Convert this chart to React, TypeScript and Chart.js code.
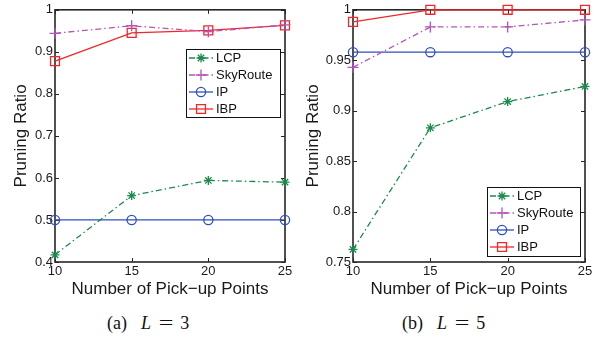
import React, { useEffect, useRef } from "react";
import { Chart, registerables } from "chart.js";
import { drawPoint } from "chart.js/helpers";

Chart.register(...registerables);

// ---------- data ----------
const pickupPoints = [10, 15, 20, 25];
const seriesNames = ["LCP", "SkyRoute", "IP", "IBP"];

// (a) L = 3
const lcpL3 = [0.417, 0.558, 0.594, 0.59];
const skyRouteL3 = [0.944, 0.962, 0.948, 0.964];
const ipL3 = [0.5, 0.5, 0.5, 0.5];
const ibpL3 = [0.878, 0.945, 0.951, 0.963];

// (b) L = 5
const lcpL5 = [0.7625, 0.883, 0.909, 0.924];
const skyRouteL5 = [0.943, 0.983, 0.983, 0.99];
const ipL5 = [0.958, 0.958, 0.958, 0.958];
const ibpL5 = [0.988, 1.0, 1.0, 1.0];

const xTicks = [10, 15, 20, 25];
const yTicksL3 = [0.4, 0.5, 0.6, 0.7, 0.8, 0.9, 1];
const yTicksL5 = [0.75, 0.8, 0.85, 0.9, 0.95, 1];

const xTitle = "Number of Pick\u2212up Points";
const yTitle = "Pruning Ratio";

// ---------- styles ----------
const FONT = "'Liberation Sans', Arial, Helvetica, sans-serif";
const seriesStyles = [
  { color: "#1b8a4c", dash: [6, 3, 1.5, 3], pointStyle: "star", radius: 4.5 },
  { color: "#b455b8", dash: [6, 3, 1.5, 3], pointStyle: "cross", radius: 5.5 },
  { color: "#2f4fbf", dash: [], pointStyle: "circle", radius: 4.6 },
  { color: "#f2262a", dash: [], pointStyle: "rect", radius: 6.3 },
];

const frameWithTicks = {
  id: "frameWithTicks",
  beforeDatasetsDraw(chart: any) {
    const { ctx, chartArea: a, scales } = chart;
    ctx.save();
    ctx.strokeStyle = "#262626";
    ctx.lineWidth = 1.6;
    ctx.strokeRect(a.left, a.top, a.right - a.left, a.bottom - a.top);
    ctx.lineWidth = 1;
    const len = 4;
    ctx.beginPath();
    scales.x.ticks.forEach((t: any) => {
      const px = Math.round(scales.x.getPixelForValue(t.value)) + 0.5;
      ctx.moveTo(px, a.bottom);
      ctx.lineTo(px, a.bottom - len);
      ctx.moveTo(px, a.top);
      ctx.lineTo(px, a.top + len);
    });
    scales.y.ticks.forEach((t: any) => {
      const py = Math.round(scales.y.getPixelForValue(t.value)) + 0.5;
      ctx.moveTo(a.left, py);
      ctx.lineTo(a.left + len, py);
      ctx.moveTo(a.right, py);
      ctx.lineTo(a.right - len, py);
    });
    ctx.stroke();
    ctx.restore();
  },
};

const boxLegend = {
  id: "boxLegend",
  afterDatasetsDraw(chart: any, _args: any, opts: any) {
    const { ctx, chartArea: a } = chart;
    const w = opts.width;
    const h = opts.height;
    const x0 = Math.round(a.right - opts.gapRight - w);
    const y0 = Math.round(
      opts.anchor === "top" ? a.top + opts.offset : a.bottom - opts.offset - h
    );
    ctx.save();
    ctx.fillStyle = "#ffffff";
    ctx.fillRect(x0, y0, w, h);
    ctx.strokeStyle = "#111111";
    ctx.lineWidth = 1;
    ctx.strokeRect(x0 + 0.5, y0 + 0.5, w, h);
    chart.data.datasets.forEach((ds: any, i: number) => {
      const cy = y0 + 9 + i * 17;
      ctx.save();
      ctx.strokeStyle = ds.borderColor;
      ctx.lineWidth = 1.3;
      ctx.setLineDash(ds.borderDash || []);
      ctx.beginPath();
      ctx.moveTo(x0 + 3, cy);
      ctx.lineTo(x0 + 27, cy);
      ctx.stroke();
      ctx.restore();
      ctx.save();
      ctx.strokeStyle = ds.borderColor;
      ctx.fillStyle = "rgba(0,0,0,0)";
      ctx.lineWidth = 1.3;
      drawPoint(
        ctx,
        { pointStyle: ds.pointStyle, radius: ds.pointRadius, rotation: 0, borderWidth: 1.3 },
        x0 + 15,
        cy
      );
      ctx.restore();
      ctx.fillStyle = "#111111";
      ctx.font = `13px ${FONT}`;
      ctx.textBaseline = "middle";
      ctx.textAlign = "left";
      ctx.fillText(ds.label, x0 + 30, cy + 0.5);
    });
    ctx.restore();
  },
};

type PanelProps = {
  series: number[][];
  yTicks: number[];
  yMin: number;
  yMax: number;
  width: number;
  height: number;
  yAxisWidth: number;
  padRight: number;
  yTitlePad: number;
  legend: any;
};

function Panel(p: PanelProps) {
  const ref = useRef<HTMLCanvasElement | null>(null);
  useEffect(() => {
    if (!ref.current) return;
    const datasets = p.series.map((vals, i) => {
      const s = seriesStyles[i];
      return {
        label: seriesNames[i],
        data: pickupPoints.map((x, j) => ({ x, y: vals[j] })),
        borderColor: s.color,
        backgroundColor: "rgba(0,0,0,0)",
        borderWidth: 1.3,
        borderDash: s.dash,
        pointStyle: s.pointStyle,
        pointRadius: s.radius,
        pointBorderWidth: 1.3,
        pointBorderColor: s.color,
        pointBackgroundColor: "rgba(0,0,0,0)",
        tension: 0,
        clip: false,
      };
    });
    const chart = new Chart(ref.current, {
      type: "line",
      data: { datasets },
      plugins: [frameWithTicks, boxLegend],
      options: {
        animation: false,
        responsive: false,
        devicePixelRatio: 1,
        layout: { padding: { left: 0, top: 9, right: p.padRight, bottom: 0 } },
        plugins: {
          legend: { display: false },
          tooltip: { enabled: false },
          boxLegend: p.legend,
        } as any,
        scales: {
          x: {
            type: "linear",
            min: pickupPoints[0],
            max: pickupPoints[pickupPoints.length - 1],
            afterBuildTicks: (sc: any) => {
              sc.ticks = xTicks.map((v) => ({ value: v }));
            },
            afterFit: (sc: any) => {
              sc.height = 38;
            },
            grid: { display: false, drawTicks: false },
            border: { display: false },
            ticks: {
              padding: 2,
              color: "#1a1a1a",
              font: { size: 13, family: FONT },
              maxRotation: 0,
              callback: (v: any) => String(v),
            },
            title: {
              display: true,
              text: xTitle,
              color: "#1a1a1a",
              font: { size: 17, family: FONT },
              padding: { top: 0, bottom: 0 },
            },
          },
          y: {
            type: "linear",
            min: p.yMin,
            max: p.yMax,
            afterBuildTicks: (sc: any) => {
              sc.ticks = p.yTicks.map((v) => ({ value: v }));
            },
            afterFit: (sc: any) => {
              sc.width = p.yAxisWidth;
            },
            grid: { display: false, drawTicks: false },
            border: { display: false },
            ticks: {
              padding: 2,
              color: "#1a1a1a",
              font: { size: 13, family: FONT },
              callback: (v: any) => String(+Number(v).toFixed(2)),
            },
            title: {
              display: true,
              text: yTitle,
              color: "#1a1a1a",
              font: { size: 17, family: FONT },
              padding: { top: p.yTitlePad, bottom: 0 },
            },
          },
        },
      } as any,
    });
    return () => chart.destroy();
  }, []);
  return (
    <canvas
      ref={ref}
      width={p.width}
      height={p.height}
      style={{ display: "block", width: p.width, height: p.height }}
    />
  );
}

const capStyle: React.CSSProperties = {
  position: "absolute",
  top: 314,
  fontFamily: "'Liberation Serif', 'Times New Roman', serif",
  fontSize: 18,
  lineHeight: "18px",
  whiteSpace: "pre",
  color: "#111",
};

function Caption({ left, tag, value }: { left: number; tag: string; value: string }) {
  return (
    <div style={{ ...capStyle, left }}>
      <span>{tag}</span>
      <span style={{ marginLeft: 14, fontStyle: "italic" }}>L</span>
      <span
        style={{
          display: "inline-block",
          marginLeft: 10,
          transform: "scaleX(1.45)",
        }}
      >
        =
      </span>
      <span style={{ marginLeft: 9 }}>{value}</span>
    </div>
  );
}

export default function App() {
  return (
    <div
      style={{
        position: "absolute",
        left: 0,
        top: 0,
        width: 611,
        height: 344,
        background: "#fff",
        overflow: "hidden",
      }}
    >
      <div style={{ position: "absolute", left: 0, top: 0 }}>
        <Panel
          series={[lcpL3, skyRouteL3, ipL3, ibpL3]}
          yTicks={yTicksL3}
          yMin={0.4}
          yMax={1}
          width={300}
          height={300}
          yAxisWidth={55}
          padRight={15}
          yTitlePad={11}
          legend={{ anchor: "top", offset: 39, gapRight: 5, width: 94, height: 68 }}
        />
      </div>
      <div style={{ position: "absolute", left: 300, top: 0 }}>
        <Panel
          series={[lcpL5, skyRouteL5, ipL5, ibpL5]}
          yTicks={yTicksL5}
          yMin={0.75}
          yMax={1}
          width={311}
          height={300}
          yAxisWidth={53}
          padRight={26}
          yTitlePad={3.5}
          legend={{ anchor: "bottom", offset: 6, gapRight: 5, width: 93, height: 69 }}
        />
      </div>
      <Caption left={107} tag="(a)" value="3" />
      <Caption left={402} tag="(b)" value="5" />
    </div>
  );
}
